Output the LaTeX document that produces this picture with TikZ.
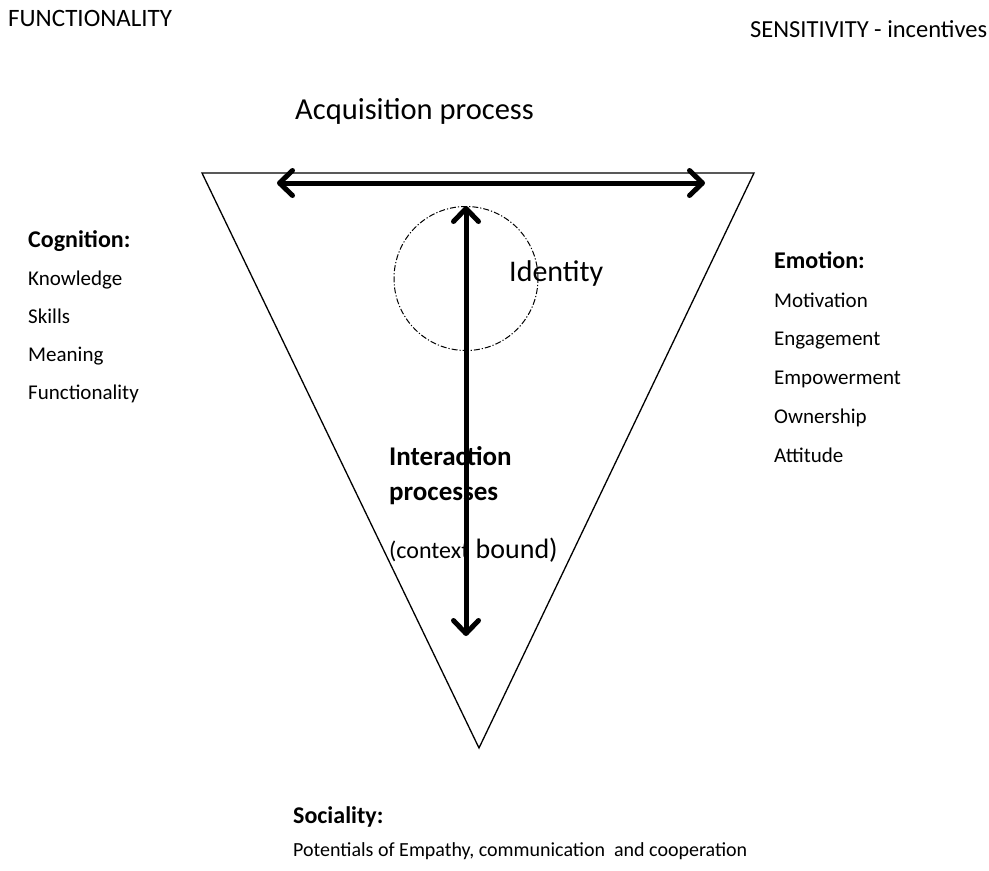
\documentclass[tikz,border=0pt]{standalone}
\usepackage{fontspec}
\setmainfont{Carlito}
\usetikzlibrary{arrows.meta}
\begin{document}
\begin{tikzpicture}[x=1pt,y=-1pt,
  lbl/.style={anchor=base west,inner sep=0pt,font=\fontsize{21}{25}\selectfont},
  hdr/.style={lbl,font=\fontsize{24}{28}\selectfont\bfseries},
  bigarrow/.style={line width=5pt,line cap=round,
    {Straight Barb[length=13pt,width=25pt,line cap=round,round]}-{Straight Barb[length=13pt,width=25pt,line cap=round,round]}},
  tri/.style={draw,line width=1.3pt,line join=miter},
  idcirc/.style={circle,draw,line width=1pt,dash pattern=on 6pt off 2pt on 1.2pt off 2pt,minimum size=144pt,inner sep=0pt}
]
\useasboundingbox (0,0) rectangle (989,871);
% top labels
\node[lbl,font=\fontsize{25}{29}\selectfont] (func) at (8,26) {FUNCTIONALITY};
\node[lbl,font=\fontsize{24.5}{29}\selectfont] (sens) at (750,37) {SENSITIVITY - incentives};
\node[lbl,font=\fontsize{30.5}{35}\selectfont] (acq) at (295,119) {Acquisition process};
% cognition
\node[hdr] (cog) at (28,247) {Cognition:};
\node[lbl] (c1) at (28,285) {Knowledge};
\node[lbl] (c2) at (28,323) {Skills};
\node[lbl] (c3) at (28,361) {Meaning};
\node[lbl] (c4) at (28,399) {Functionality};
% emotion
\node[hdr] (emo) at (774,268) {Emotion:};
\node[lbl] (e1) at (774,307) {Motivation};
\node[lbl] (e2) at (774,345) {Engagement};
\node[lbl] (e3) at (774,384) {Empowerment};
\node[lbl] (e4) at (774,423) {Ownership};
\node[lbl] (e5) at (774,462) {Attitude};
% sociality
\node[hdr] (soc) at (293,823) {Sociality:};
\node[lbl,font=\fontsize{20}{24}\selectfont] (s1) at (293,856) {Potentials of Empathy, communication\ \ and cooperation};
% triangle
\coordinate (tl) at (202,173);
\coordinate (tr) at (754,173);
\coordinate (ap) at (479,748);
\draw[tri] (tl) -- (tr) -- (ap) -- cycle;
% identity circle and label
\node[idcirc] (idc) at (466,278.5) {};
\node[lbl,font=\fontsize{30}{34}\selectfont] (ident) at (509,281) {Identity};
% interaction text
\node[hdr,font=\fontsize{27}{31}\selectfont\bfseries] (int1) at (389,465) {Interaction};
\node[hdr,font=\fontsize{27}{31}\selectfont\bfseries] (int2) at (389,500) {processes};
\node[lbl,font=\fontsize{28}{32}\selectfont] (int3) at (389,558) {{\fontsize{24}{28}\selectfont(context} bound)};
% arrows
\coordinate (hl) at (277,183);
\coordinate (hr) at (705,183);
\coordinate (vb) at (466,636);
\draw[bigarrow] (hl) -- (hr);
\draw[bigarrow] (idc.north) -- (vb);
\end{tikzpicture}
\end{document}
